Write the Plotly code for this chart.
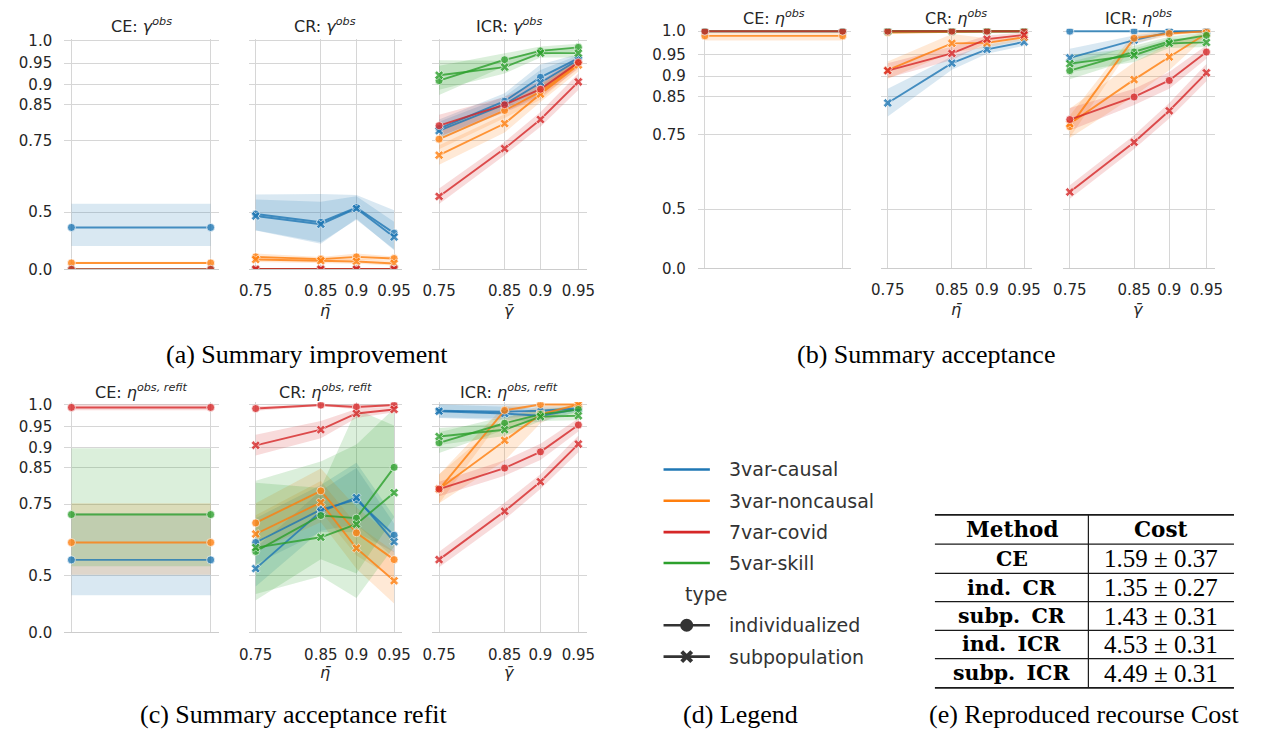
import plotly.graph_objects as go

# ---------------- data ----------------
DATASETS = ["3var-causal", "3var-noncausal", "7var-covid", "5var-skill"]
COLORS = {"3var-causal": "31,119,180", "3var-noncausal": "255,127,14",
          "7var-covid": "214,39,40", "5var-skill": "44,160,44"}
DRAW_ORDER = ["3var-causal", "3var-noncausal", "5var-skill", "7var-covid"]
TYPES = ["individualized", "subpopulation"]
SYMBOLS = {"individualized": "circle", "subpopulation": "x"}

thresholds = [0.75, 0.85, 0.9, 0.95]
threshold_labels = ["0.75", "0.85", "0.9", "0.95"]
ce_span = [0.75, 0.95]
y_ticks = [0.0, 0.5, 0.75, 0.85, 0.9, 0.95, 1.0]
y_tick_labels = ["0.0", "0.5", "0.75", "0.85", "0.9", "0.95", "1.0"]

# (a) improvement  gamma^obs
imp_ce = {"3var-causal": 0.428, "3var-noncausal": 0.166, "7var-covid": 0.0, "5var-skill": 0.0}
imp_ce_ci = {"3var-causal": 0.108, "3var-noncausal": 0.015, "7var-covid": 0.0, "5var-skill": 0.0}
imp_cr_ind = {"3var-causal": [0.492, 0.454, 0.520, 0.398], "3var-noncausal": [0.233, 0.211, 0.233, 0.217],
              "7var-covid": [0.0, 0.0, 0.0, 0.0], "5var-skill": [0.0, 0.0, 0.0, 0.0]}
imp_cr_ind_ci = {"3var-causal": [0.08, 0.12, 0.05, 0.11], "3var-noncausal": [0.03, 0.02, 0.03, 0.02],
                 "7var-covid": [0, 0, 0, 0], "5var-skill": [0, 0, 0, 0]}
imp_cr_sub = {"3var-causal": [0.483, 0.444, 0.516, 0.376], "3var-noncausal": [0.207, 0.193, 0.185, 0.160],
              "7var-covid": [0.0, 0.0, 0.0, 0.0], "5var-skill": [0.0, 0.0, 0.0, 0.0]}
imp_cr_sub_ci = {"3var-causal": [0.07, 0.10, 0.05, 0.08], "3var-noncausal": [0.03, 0.03, 0.03, 0.03],
                 "7var-covid": [0, 0, 0, 0], "5var-skill": [0, 0, 0, 0]}
imp_icr_ind = {"3var-causal": [0.785, 0.858, 0.917, 0.961], "3var-noncausal": [0.755, 0.834, 0.882, 0.950],
               "7var-covid": [0.793, 0.849, 0.888, 0.952], "5var-skill": [0.909, 0.958, 0.978, 0.986]}
imp_icr_ind_ci = {"3var-causal": [0.025, 0.02, 0.03, 0.01], "3var-noncausal": [0.03, 0.02, 0.02, 0.01],
                  "7var-covid": [0.03, 0.02, 0.02, 0.015], "5var-skill": [0.035, 0.015, 0.01, 0.008]}
imp_icr_sub = {"3var-causal": [0.779, 0.850, 0.904, 0.958], "3var-noncausal": [0.707, 0.799, 0.876, 0.946],
               "7var-covid": [0.565, 0.727, 0.810, 0.906], "5var-skill": [0.922, 0.941, 0.973, 0.973]}
imp_icr_sub_ci = {"3var-causal": [0.025, 0.02, 0.03, 0.01], "3var-noncausal": [0.03, 0.025, 0.02, 0.015],
                  "7var-covid": [0.03, 0.02, 0.02, 0.02], "5var-skill": [0.035, 0.015, 0.01, 0.01]}

# (b) acceptance  eta^obs
acc_ce = {"3var-causal": 1.0, "3var-noncausal": 0.990, "7var-covid": 1.0, "5var-skill": 1.0}
acc_ce_ci = {"3var-causal": 0.0, "3var-noncausal": 0.01, "7var-covid": 0.0, "5var-skill": 0.0}
acc_cr_ind = {"3var-causal": [1.0, 1.0, 1.0, 1.0], "3var-noncausal": [0.997, 0.999, 1.0, 1.0],
              "7var-covid": [1.0, 1.0, 1.0, 1.0], "5var-skill": [1.0, 1.0, 1.0, 1.0]}
acc_cr_ind_ci = {"3var-causal": [0, 0, 0, 0], "3var-noncausal": [0.003, 0.001, 0, 0],
                 "7var-covid": [0, 0, 0, 0], "5var-skill": [0, 0, 0, 0]}
acc_cr_sub = {"3var-causal": [0.835, 0.930, 0.961, 0.977], "3var-noncausal": [0.914, 0.974, 0.975, 0.987],
              "7var-covid": [0.913, 0.952, 0.983, 0.992], "5var-skill": [1.0, 1.0, 1.0, 1.0]}
acc_cr_sub_ci = {"3var-causal": [0.035, 0.015, 0.01, 0.008], "3var-noncausal": [0.02, 0.02, 0.01, 0.006],
                 "7var-covid": [0.017, 0.015, 0.008, 0.005], "5var-skill": [0, 0, 0, 0]}
acc_icr_ind = {"3var-causal": [1.0, 1.0, 1.0, 1.0], "3var-noncausal": [0.773, 0.985, 0.995, 1.0],
               "7var-covid": [0.792, 0.850, 0.890, 0.955], "5var-skill": [0.913, 0.955, 0.978, 0.991]}
acc_icr_ind_ci = {"3var-causal": [0, 0, 0, 0], "3var-noncausal": [0.03, 0.01, 0.005, 0],
                  "7var-covid": [0.03, 0.02, 0.02, 0.015], "5var-skill": [0.02, 0.015, 0.01, 0.008]}
acc_icr_sub = {"3var-causal": [0.942, 0.981, 0.998, 1.0], "3var-noncausal": [0.781, 0.892, 0.944, 0.995],
               "7var-covid": [0.567, 0.729, 0.815, 0.908], "5var-skill": [0.929, 0.948, 0.974, 0.976]}
acc_icr_sub_ci = {"3var-causal": [0.02, 0.01, 0.003, 0], "3var-noncausal": [0.04, 0.04, 0.03, 0.005],
                  "7var-covid": [0.025, 0.02, 0.02, 0.02], "5var-skill": [0.02, 0.015, 0.01, 0.01]}

# (c) acceptance after refit  eta^{obs,refit}
ref_ce = {"3var-causal": 0.564, "3var-noncausal": 0.628, "7var-covid": 0.9935, "5var-skill": 0.719}
ref_ce_ci = {"3var-causal": 0.16, "3var-noncausal": 0.125, "7var-covid": 0.0065, "5var-skill": 0.18}
ref_cr_ind = {"3var-causal": [0.628, 0.734, 0.763, 0.653], "3var-noncausal": [0.693, 0.788, 0.661, 0.565],
              "7var-covid": [0.991, 0.9987, 0.9944, 0.9987], "5var-skill": [0.596, 0.716, 0.708, 0.851]}
ref_cr_ind_ci = {"3var-causal": [0.08, 0.07, 0.10, 0.06], "3var-noncausal": [0.06, 0.06, 0.08, 0.08],
                 "7var-covid": [0.005, 0.002, 0.005, 0.002], "5var-skill": [0.22, 0.15, 0.2, 0.14]}
ref_cr_sub = {"3var-causal": [0.529, 0.728, 0.769, 0.631], "3var-noncausal": [0.657, 0.755, 0.608, 0.476],
              "7var-covid": [0.906, 0.943, 0.980, 0.989], "5var-skill": [0.610, 0.646, 0.689, 0.783]}
ref_cr_sub_ci = {"3var-causal": [0.08, 0.06, 0.08, 0.06], "3var-noncausal": [0.06, 0.06, 0.08, 0.12],
                 "7var-covid": [0.025, 0.02, 0.01, 0.006], "5var-skill": [0.2, 0.15, 0.3, 0.17]}
ref_icr_ind = {"3var-causal": [0.986, 0.984, 0.986, 0.991], "3var-noncausal": [0.792, 0.987, 1.0, 1.0],
               "7var-covid": [0.793, 0.849, 0.890, 0.954], "5var-skill": [0.912, 0.958, 0.978, 0.989]}
ref_icr_ind_ci = {"3var-causal": [0.015, 0.015, 0.01, 0.005], "3var-noncausal": [0.04, 0.01, 0, 0],
                  "7var-covid": [0.02, 0.02, 0.02, 0.015], "5var-skill": [0.025, 0.015, 0.01, 0.008]}
ref_icr_sub = {"3var-causal": [0.985, 0.980, 0.975, 0.990], "3var-noncausal": [0.793, 0.918, 0.978, 1.0],
               "7var-covid": [0.565, 0.729, 0.813, 0.909], "5var-skill": [0.927, 0.943, 0.973, 0.975]}
ref_icr_sub_ci = {"3var-causal": [0.015, 0.015, 0.015, 0.005], "3var-noncausal": [0.04, 0.05, 0.02, 0],
                  "7var-covid": [0.03, 0.025, 0.02, 0.02], "5var-skill": [0.02, 0.015, 0.01, 0.01]}

# (e) cost table
methods = ["CE", "ind. CR", "subp. CR", "ind. ICR", "subp. ICR"]
cost_mean = [1.59, 1.35, 1.43, 4.53, 4.49]
cost_std = [0.37, 0.27, 0.31, 0.31, 0.31]

legend_names = DATASETS
type_names = TYPES

# ---------------- layout helpers ----------------
W, H = 1261, 742
FONT = "DejaVu Sans"
SERIF = "Liberation Serif"
TXT = "#262626"
GRID = "#d6d6d6"


def px(x):
    return x / W


def py(y):
    return 1 - y / H


def sq(v):
    return v * v


COLS = {"a": [(55, 212), (242, 398), (428, 585)],
        "b": [(697.7, 853), (883.3, 1037), (1068, 1222)],
        "c": [(55, 212), (242, 398), (428, 585)]}
ROWS = {"a": (33.3, 268.7, 1.0103), "b": (23.3, 267.7, 1.0099), "c": (404.3, 639.3, 1.0103)}
TITLE_Y = {"a": 20, "b": 12, "c": 393}
XLAB_Y = {"a": 311, "b": 310, "c": 680}
METRIC = {"a": ("γ", "obs"), "b": ("η", "obs"), "c": ("η", "obs, refit")}
METHODS = ["CE", "CR", "ICR"]
XLABEL = {"CR": "η\u0304", "ICR": "γ\u0304"}

PANEL_DATA = {
    ("a", "CE"): (imp_ce, imp_ce_ci), ("b", "CE"): (acc_ce, acc_ce_ci), ("c", "CE"): (ref_ce, ref_ce_ci),
    ("a", "CR"): {"individualized": (imp_cr_ind, imp_cr_ind_ci), "subpopulation": (imp_cr_sub, imp_cr_sub_ci)},
    ("a", "ICR"): {"individualized": (imp_icr_ind, imp_icr_ind_ci), "subpopulation": (imp_icr_sub, imp_icr_sub_ci)},
    ("b", "CR"): {"individualized": (acc_cr_ind, acc_cr_ind_ci), "subpopulation": (acc_cr_sub, acc_cr_sub_ci)},
    ("b", "ICR"): {"individualized": (acc_icr_ind, acc_icr_ind_ci), "subpopulation": (acc_icr_sub, acc_icr_sub_ci)},
    ("c", "CR"): {"individualized": (ref_cr_ind, ref_cr_ind_ci), "subpopulation": (ref_cr_sub, ref_cr_sub_ci)},
    ("c", "ICR"): {"individualized": (ref_icr_ind, ref_icr_ind_ci), "subpopulation": (ref_icr_sub, ref_icr_sub_ci)},
}

fig = go.Figure()
layout = dict(width=W, height=H, margin=dict(l=0, r=0, t=0, b=0), showlegend=False,
              paper_bgcolor="white", plot_bgcolor="white")
annotations = []
shapes = []

band_traces = []
line_traces = []

k = 0
for row in ["a", "b", "c"]:
    y0p, y1p, ytop = ROWS[row]
    for ci_, meth in enumerate(METHODS):
        k += 1
        sfx = "" if k == 1 else str(k)
        x0p, x1p = COLS[row][ci_]
        is_ce = meth == "CE"
        layout["xaxis" + sfx] = dict(
            domain=[px(x0p), px(x1p)], anchor="y" + sfx, range=[0.5449, 0.9228],
            tickmode="array", tickvals=[sq(v) for v in (ce_span if is_ce else thresholds)],
            ticktext=threshold_labels if not is_ce else ["", ""], showticklabels=not is_ce,
            showgrid=True, gridcolor=GRID, gridwidth=1.3, zeroline=False,
            showline=True, linecolor="#cccccc", linewidth=1.3, ticks="",
            tickfont=dict(family=FONT, size=15, color=TXT), ticklabelstandoff=8, fixedrange=True)
        layout["yaxis" + sfx] = dict(
            domain=[py(y1p), py(y0p)], anchor="x" + sfx, range=[0, ytop],
            tickmode="array", tickvals=[sq(v) for v in y_ticks], ticktext=y_tick_labels,
            showticklabels=is_ce, showgrid=True, gridcolor=GRID, gridwidth=1.3, zeroline=False,
            showline=False, ticks="", tickfont=dict(family=FONT, size=15, color=TXT),
            ticklabelstandoff=11, fixedrange=True)
        sym, sup = METRIC[row]
        annotations.append(dict(
            text=f"{meth}: <i>{sym}</i><sup><i>{sup}</i></sup>", x=px((x0p + x1p) / 2), y=py(TITLE_Y[row]),
            xref="paper", yref="paper", showarrow=False, xanchor="center", yanchor="middle",
            font=dict(family=FONT, size=16, color=TXT)))
        if not is_ce:
            annotations.append(dict(
                text=f"<i>{XLABEL[meth]}</i>", x=px((x0p + x1p) / 2), y=py(XLAB_Y[row]),
                xref="paper", yref="paper", showarrow=False, xanchor="center", yanchor="middle",
                font=dict(family=FONT, size=16, color=TXT)))

        xa, ya = "x" + sfx, "y" + sfx
        if is_ce:
            means, cis = PANEL_DATA[(row, meth)]
            series = [(ds, "individualized", [means[ds]] * 2, [cis[ds]] * 2, ce_span) for ds in DRAW_ORDER]
        else:
            d = PANEL_DATA[(row, meth)]
            series = []
            for ds in DRAW_ORDER:
                for t in TYPES:
                    means, cis = d[t]
                    series.append((ds, t, means[ds], cis[ds], thresholds))
        for ds, t, m, c, xs in series:
            rgb = COLORS[ds]
            xv = [sq(v) for v in xs]
            if any(cc > 0 for cc in c):
                lo = [sq(max(0.0, mm - cc)) for mm, cc in zip(m, c)]
                hi = [sq(min(1.0, mm + cc)) for mm, cc in zip(m, c)]
                band_traces.append(go.Scatter(
                    x=xv + xv[::-1], y=hi + lo[::-1], xaxis=xa, yaxis=ya, mode="lines",
                    fill="toself", fillcolor=f"rgba({rgb},0.17)", line=dict(width=0),
                    hoverinfo="skip"))
            line_traces.append(go.Scatter(
                x=xv, y=[sq(v) for v in m], xaxis=xa, yaxis=ya, mode="lines+markers",
                line=dict(color=f"rgb({rgb})", width=1.9),
                marker=dict(symbol=SYMBOLS[t], size=8, color=f"rgb({rgb})",
                            line=dict(color="white", width=0.7)),
                opacity=0.8, name=f"{ds} ({t})"))

for tr in band_traces + line_traces:
    fig.add_trace(tr)

# ---------------- captions ----------------
captions = [("(a) Summary improvement", 301, 356), ("(b) Summary acceptance", 929, 356),
            ("(c) Summary acceptance refit", 288, 723), ("(d) Legend", 741, 723),
            ("(e) Reproduced recourse Cost", 1090, 723)]
for txt, cx, cy in captions:
    annotations.append(dict(text=txt, x=px(cx), y=py(cy), xref="paper", yref="paper", showarrow=False,
                            xanchor="center", yanchor="middle", font=dict(family=SERIF, size=26, color="black")))

# ---------------- legend (d) ----------------
LEG_X0, LEG_X1, LEG_TX = 663, 710, 727
leg_rows = [473, 505, 537, 568.5]
for name, yy in zip(legend_names, leg_rows):
    shapes.append(dict(type="line", xref="paper", yref="paper", x0=px(LEG_X0), x1=px(LEG_X1),
                       y0=py(yy), y1=py(yy), line=dict(color=f"rgb({COLORS[name]})", width=2.6)))
    annotations.append(dict(text=name, x=px(LEG_TX), y=py(yy), xref="paper", yref="paper", showarrow=False,
                            xanchor="left", yanchor="middle", font=dict(family=FONT, size=19, color="#333333")))
annotations.append(dict(text="type", x=px(683), y=py(600), xref="paper", yref="paper", showarrow=False,
                        xanchor="left", yanchor="middle", font=dict(family=FONT, size=19, color="#333333")))
type_rows = [632, 664]
for name, yy in zip(type_names, type_rows):
    shapes.append(dict(type="line", xref="paper", yref="paper", x0=px(LEG_X0), x1=px(LEG_X1),
                       y0=py(yy), y1=py(yy), line=dict(color="#333333", width=2.6)))
    annotations.append(dict(text=name, x=px(LEG_TX), y=py(yy), xref="paper", yref="paper", showarrow=False,
                            xanchor="left", yanchor="middle", font=dict(family=FONT, size=19, color="#333333")))
cxm = (LEG_X0 + LEG_X1) / 2
shapes.append(dict(type="circle", xref="paper", yref="paper", xsizemode="pixel", ysizemode="pixel",
                   xanchor=px(cxm), yanchor=py(type_rows[0]), x0=-6.5, x1=6.5, y0=-6.5, y1=6.5,
                   fillcolor="#333333", line=dict(width=0)))
shapes.append(dict(type="path", xref="paper", yref="paper", xsizemode="pixel", ysizemode="pixel",
                   xanchor=px(cxm), yanchor=py(type_rows[1]), path="M-5,-5L5,5M-5,5L5,-5",
                   line=dict(color="#333333", width=4)))

# ---------------- table (e) ----------------
T_L, T_M, T_R = 938.3, 1094, 1241.7
rules = [519.3, 549.3, 579, 608, 637.3, 666, 696]
for i, yy in enumerate(rules):
    shapes.append(dict(type="line", xref="paper", yref="paper", x0=px(T_L), x1=px(T_R), y0=py(yy), y1=py(yy),
                       line=dict(color="#1a1a1a", width=1.8 if i in (0, len(rules) - 1) else 1.2)))
shapes.append(dict(type="line", xref="paper", yref="paper", x0=px(T_M), x1=px(T_M), y0=py(rules[0]),
                   y1=py(rules[-1]), line=dict(color="#1a1a1a", width=1.2)))
col_c1, col_c2 = (T_L + T_M) / 2, (T_M + T_R) / 2
hdr_y = (rules[0] + rules[1]) / 2
annotations.append(dict(text="<b>Method</b>", x=px(col_c1), y=py(hdr_y), xref="paper", yref="paper",
                        showarrow=False, xanchor="center", yanchor="middle",
                        font=dict(family="DejaVu Serif", size=21.5, color="black")))
annotations.append(dict(text="<b>Cost</b>", x=px(col_c2), y=py(hdr_y), xref="paper", yref="paper",
                        showarrow=False, xanchor="center", yanchor="middle",
                        font=dict(family="DejaVu Serif", size=21.5, color="black")))
for i, (m, mu, sd) in enumerate(zip(methods, cost_mean, cost_std)):
    yy = (rules[i + 1] + rules[i + 2]) / 2
    annotations.append(dict(text=f"<b>{m.replace('. ', '.\u2009 ')}</b>", x=px(col_c1), y=py(yy), xref="paper",
                            yref="paper", showarrow=False, xanchor="center", yanchor="middle",
                            font=dict(family="DejaVu Serif", size=20.5, color="black")))
    annotations.append(dict(text=f"{mu:.2f} ± {sd:.2f}", x=px(col_c2), y=py(yy), xref="paper", yref="paper",
                            showarrow=False, xanchor="center", yanchor="middle",
                            font=dict(family=SERIF, size=25, color="black")))

layout["annotations"] = annotations
layout["shapes"] = shapes
fig.update_layout(**layout)
fig.write_html("out.html")
